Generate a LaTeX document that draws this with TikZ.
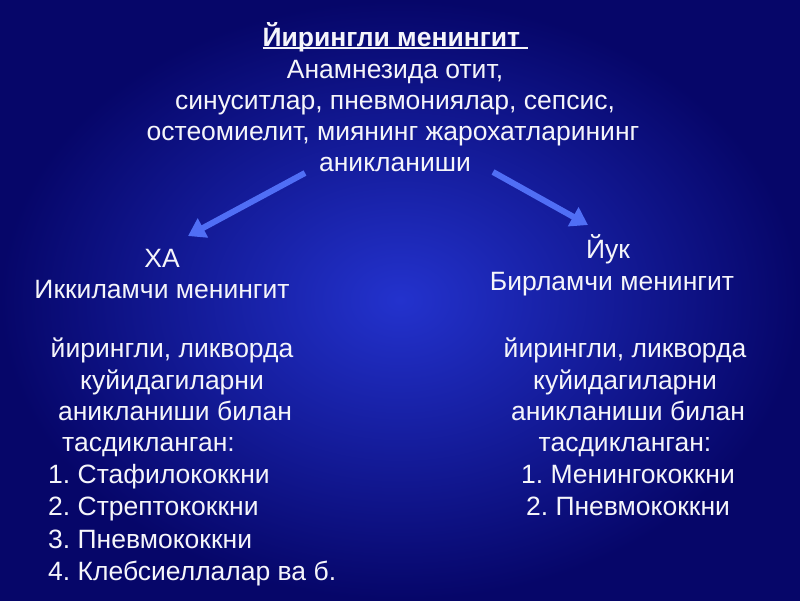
\documentclass[tikz,border=0pt]{standalone}
\usepackage{fontspec}
\setmainfont{Liberation Sans}
\usetikzlibrary{arrows.meta}
\frenchspacing
\newcommand{\titleul}[1]{\setbox0=\hbox{#1}\rlap{\rule[-3pt]{\wd0}{1.8pt}}\box0}
\definecolor{bgout}{RGB}{6,6,105}
\definecolor{bgin}{RGB}{35,50,205}
\definecolor{txt}{RGB}{245,245,250}
\definecolor{arr}{RGB}{80,110,245}
\tikzset{
  t/.style={text=txt, font=\fontsize{26.5}{31}\selectfont, inner sep=0pt, anchor=base},
  tl/.style={t, anchor=base west},
  bigarrow/.style={draw=arr, line width=6pt, -{Triangle[width=21pt,length=17pt]}}
}
\begin{document}
\begin{tikzpicture}[x=1pt,y=-1pt]
\useasboundingbox (0,0) rectangle (800,600);
\shade[inner color=bgin, outer color=bgout] (0,0) rectangle (800,600);
% title block
\node[t] (title) at (395,46) {\color{txt}\titleul{\textbf{Йирингли менингит\ }}};
\node[t] (l1) at (395,78) {Анамнезида отит,};
\node[t] (l2) at (395,109) {синуситлар, пневмониялар, сепсис,};
\node[t] (l3) at (393,140) {остеомиелит, миянинг жарохатларининг};
\node[t] (l4) at (395,171) {аникланиши};
% arrow ends
\coordinate (la) at (305,173);
\coordinate (lb) at (188,236);
\coordinate (ra) at (493,172);
\coordinate (rb) at (588,225);
\draw[bigarrow] (la) -- (lb);
\draw[bigarrow] (ra) -- (rb);
% left branch
\node[t] (xa) at (162,267) {ХА};
\node[t] (sec) at (162,298) {Иккиламчи менингит};
\node[t] (a1) at (172,357) {йирингли, ликворда};
\node[t] (a2) at (172,389) {куйидагиларни};
\node[t] (a3) at (175,420) {аникланиши билан};
\node[tl] (a4) at (62,451) {тасдикланган:};
\node[tl] (a5) at (48,483) {1. Стафилококкни};
\node[tl] (a6) at (48,515) {2. Стрептококкни};
\node[tl] (a7) at (48,548) {3. Пневмококкни};
\node[tl] (a8) at (48,580) {4. Клебсиеллалар ва б.};
% right branch
\node[t] (yuk) at (608,258) {Йук};
\node[t] (prim) at (612,290) {Бирламчи менингит};
\node[t] (b1) at (625,357) {йирингли, ликворда};
\node[t] (b2) at (625,389) {куйидагиларни};
\node[t] (b3) at (628,420) {аникланиши билан};
\node[t] (b4) at (625,451) {тасдикланган:};
\node[t] (b5) at (628,483) {1. Менингококкни};
\node[t] (b6) at (628,515) {2. Пневмококкни};
\end{tikzpicture}
\end{document}
